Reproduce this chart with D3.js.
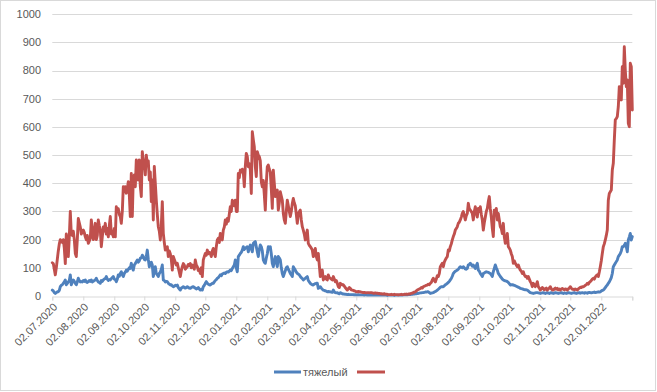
<!DOCTYPE html>
<html><head><meta charset="utf-8">
<script src="https://cdn.jsdelivr.net/npm/d3@7"></script>
<style>body{margin:0;background:#fff}svg{display:block}text{font-family:"Liberation Sans",Arial,sans-serif;fill:#595959}</style>
</head><body>
<svg id="c" width="657" height="392"></svg>
<script>
const startDate = "02.07.2020";
const seriesNames = ["тяжелый", ""];
const yTicks = [0,100,200,300,400,500,600,700,800,900,1000];
const tickLabels = ["02.07.2020","02.08.2020","02.09.2020","02.10.2020","02.11.2020","02.12.2020","02.01.2021","02.02.2021","02.03.2021","02.04.2021","02.05.2021","02.06.2021","02.07.2021","02.08.2021","02.09.2021","02.10.2021","02.11.2021","02.12.2021","02.01.2022"];
const axisEnd = "02.02.2022";
const blueValues = [
21,18,12,9,12,15,15,20,33,38,
40,45,50,57,40,45,50,55,75,40,
50,57,52,45,40,50,63,55,50,51,
50,55,52,57,50,48,51,55,52,57,
50,52,55,57,63,55,50,48,45,55,
52,57,60,62,69,60,55,58,57,62,
65,69,60,58,51,60,75,70,80,86,
75,69,80,85,92,88,95,100,98,116,
100,92,110,115,122,128,120,125,134,135,
145,140,130,128,140,163,130,104,115,120,
110,69,90,104,80,75,69,80,85,95,
110,57,55,50,52,51,45,42,39,40,
36,33,35,38,36,39,30,25,21,28,
30,33,30,28,30,33,30,28,27,30,
32,33,30,28,25,27,30,25,21,24,
21,33,38,45,51,45,42,40,39,42,
45,45,50,55,58,63,65,70,75,72,
78,80,82,80,84,86,85,88,92,90,
98,104,110,128,100,86,140,145,151,155,
163,175,165,170,172,175,157,170,181,170,
157,187,190,193,175,157,140,165,181,175,
160,128,120,116,135,150,175,172,175,150,
116,104,125,140,120,104,140,135,128,100,
80,69,80,90,100,104,95,88,80,75,
69,104,98,92,85,80,78,75,69,65,
62,57,60,63,66,69,55,50,45,42,
40,39,42,44,45,45,27,30,33,28,
24,21,20,18,17,15,16,15,15,14,
13,21,15,12,11,12,9,8,12,10,
8,7,7,6,6,5,6,5,5,5,
5,5,4,5,4,4,5,4,4,4,
4,4,3,4,4,3,4,3,3,4,
3,3,4,3,3,3,3,4,3,3,
3,3,3,3,3,2,3,3,3,3,
3,3,2,3,3,3,3,3,3,4,
3,4,4,4,5,4,5,5,5,6,
6,7,7,8,8,9,9,10,11,11,
12,12,13,14,14,15,15,12,9,10,
11,12,14,16,18,21,24,27,31,33,
33,33,36,40,42,45,48,52,57,62,
70,80,84,88,90,92,95,100,104,102,
100,104,100,96,95,98,110,112,116,112,
106,110,104,98,108,116,92,88,80,75,
69,80,82,84,86,85,84,82,80,75,
69,86,98,110,100,92,80,75,69,65,
60,57,55,54,53,51,48,44,39,40,
40,39,38,36,35,33,31,30,27,26,
25,24,23,22,22,21,18,15,12,11,
10,9,10,11,12,12,11,10,9,10,
11,12,10,9,11,12,10,9,11,12,
10,9,10,12,11,10,9,10,11,12,
10,9,11,10,9,10,12,11,10,9,
10,11,12,10,9,10,11,12,10,11,
12,11,10,12,11,10,12,13,12,11,
12,13,14,12,13,14,15,14,15,18,
20,21,25,30,35,39,45,50,57,65,
80,104,110,116,122,128,140,145,151,160,
175,175,180,187,175,157,199,210,222,199,
211];
const redValues = [
118,115,95,75,100,130,160,185,200,195,
190,200,170,115,220,195,140,210,300,220,
215,230,200,151,140,200,275,260,245,220,
230,234,225,210,200,215,187,195,205,270,
240,200,220,258,200,215,270,250,234,175,
210,245,230,258,220,240,210,250,282,220,
230,210,240,210,317,300,310,290,282,258,
300,388,370,388,365,380,406,360,282,435,
282,420,430,388,483,435,412,483,390,353,
512,480,471,430,500,470,480,412,440,335,
412,270,460,400,340,290,246,230,199,250,
335,222,190,163,170,175,140,160,150,130,
92,140,130,120,110,116,100,85,69,90,
104,115,110,95,100,104,112,108,115,100,
110,104,95,128,110,104,90,95,80,100,
69,128,140,151,145,163,150,155,151,140,
160,169,150,140,175,199,205,190,222,210,
199,234,245,270,255,275,265,290,317,300,
340,335,320,340,300,300,435,420,447,440,
450,440,388,460,506,495,459,470,450,364,
583,555,530,459,424,512,500,495,480,406,
388,410,360,305,400,459,465,450,440,380,
311,447,400,353,365,376,305,330,370,355,
340,293,270,258,300,340,320,300,282,300,
328,346,330,320,290,258,290,300,305,270,
246,234,220,199,215,234,187,180,175,170,
163,140,155,169,140,128,151,110,69,80,
92,57,65,69,60,57,75,65,63,60,
57,69,60,51,55,45,33,30,45,42,
39,40,35,30,25,21,25,30,27,22,
21,20,18,17,15,15,16,15,15,14,
13,12,13,12,11,12,12,11,12,12,
11,10,10,11,10,10,9,9,8,8,
7,7,8,7,6,6,5,5,5,6,
5,5,6,5,5,5,4,5,5,6,
5,5,6,6,7,6,7,7,8,9,
10,12,14,15,18,21,23,25,27,30,
28,33,35,36,38,39,42,40,45,48,
57,63,55,50,60,72,69,80,104,110,
116,104,120,128,135,140,163,160,175,185,
199,211,220,234,240,246,258,262,270,280,
293,300,285,270,285,293,329,310,305,300,
293,270,300,317,295,280,311,300,317,290,
270,234,260,280,300,311,335,353,310,280,
240,211,305,290,311,270,293,270,246,240,
222,258,210,187,200,222,175,170,163,150,
140,116,125,116,110,104,110,100,92,88,
80,86,75,69,70,63,69,60,51,45,
33,45,40,33,40,51,33,28,21,25,
30,27,22,25,28,21,25,28,33,25,
22,21,25,28,24,27,22,25,21,25,
27,24,22,25,24,21,25,28,33,28,
24,24,22,25,23,21,25,28,31,30,
33,33,35,38,40,45,42,48,51,55,
60,63,60,68,72,75,69,85,104,125,
151,175,185,199,215,234,340,364,370,376,
447,471,553,625,630,637,672,743,720,696,
814,755,885,800,743,767,613,601,826,814,
660];
const colors = ["#4F81BD", "#C0504D"];

const parse = d3.utcParse("%d.%m.%Y");
const t0 = parse(startDate);
const svg = d3.select("#c");
const x = d3.scaleUtc().domain([t0, parse(axisEnd)]).range([52.3, 632.3]);
const y = d3.scaleLinear().domain([0, 1000]).range([296, 14.3]);

svg.append("rect").attr("x",0.5).attr("y",0.5).attr("width",655).attr("height",390)
  .attr("fill","#fff").attr("stroke","#D9D9D9");

// gridlines
svg.append("g").selectAll("line").data(yTicks.filter(v=>v>0)).join("line")
  .attr("x1",52.3).attr("x2",632.3)
  .attr("y1",d=>Math.round(y(d))+0.5).attr("y2",d=>Math.round(y(d))+0.5)
  .attr("stroke","#D9D9D9").attr("stroke-width",1);

// y labels
svg.append("g").selectAll("text").data(yTicks).join("text")
  .attr("x",41).attr("y",d=>y(d)).attr("dy","0.35em")
  .attr("text-anchor","end").attr("font-size","11px").text(d=>d);

// x axis
const tickDates = tickLabels.map(parse).concat([parse(axisEnd)]);
const xAxis = d3.axisBottom(x).tickValues(tickDates).tickSize(4).tickFormat("");
const gx = svg.append("g").attr("transform","translate(0,296.5)").call(xAxis);
gx.select(".domain").attr("stroke","#D9D9D9");
gx.selectAll(".tick line").attr("stroke","#D9D9D9");

svg.append("g").selectAll("text").data(tickLabels).join("text")
  .attr("transform",d=>`translate(${x(parse(d))+3},305) rotate(-45)`)
  .attr("text-anchor","end").attr("dy","0.35em").attr("font-size","11px").text(d=>d);

// lines
const line = d3.line().x((v,i)=>x(d3.utcDay.offset(t0,i))).y(v=>y(v));
[blueValues, redValues].forEach((vals,k)=>{
  svg.append("path").datum(vals).attr("d",line).attr("fill","none")
    .attr("stroke",colors[k]).attr("stroke-width",2.9)
    .attr("stroke-linejoin","round").attr("stroke-linecap","round");
});

// legend
const lg = svg.append("g");
lg.append("line").attr("x1",274).attr("x2",301).attr("y1",372).attr("y2",372)
  .attr("stroke",colors[0]).attr("stroke-width",3);
lg.append("text").attr("x",303).attr("y",372).attr("dy","0.35em").attr("font-size","11px").text(seriesNames[0]);
lg.append("line").attr("x1",357).attr("x2",385).attr("y1",372).attr("y2",372)
  .attr("stroke",colors[1]).attr("stroke-width",3);
</script>
</body></html>
